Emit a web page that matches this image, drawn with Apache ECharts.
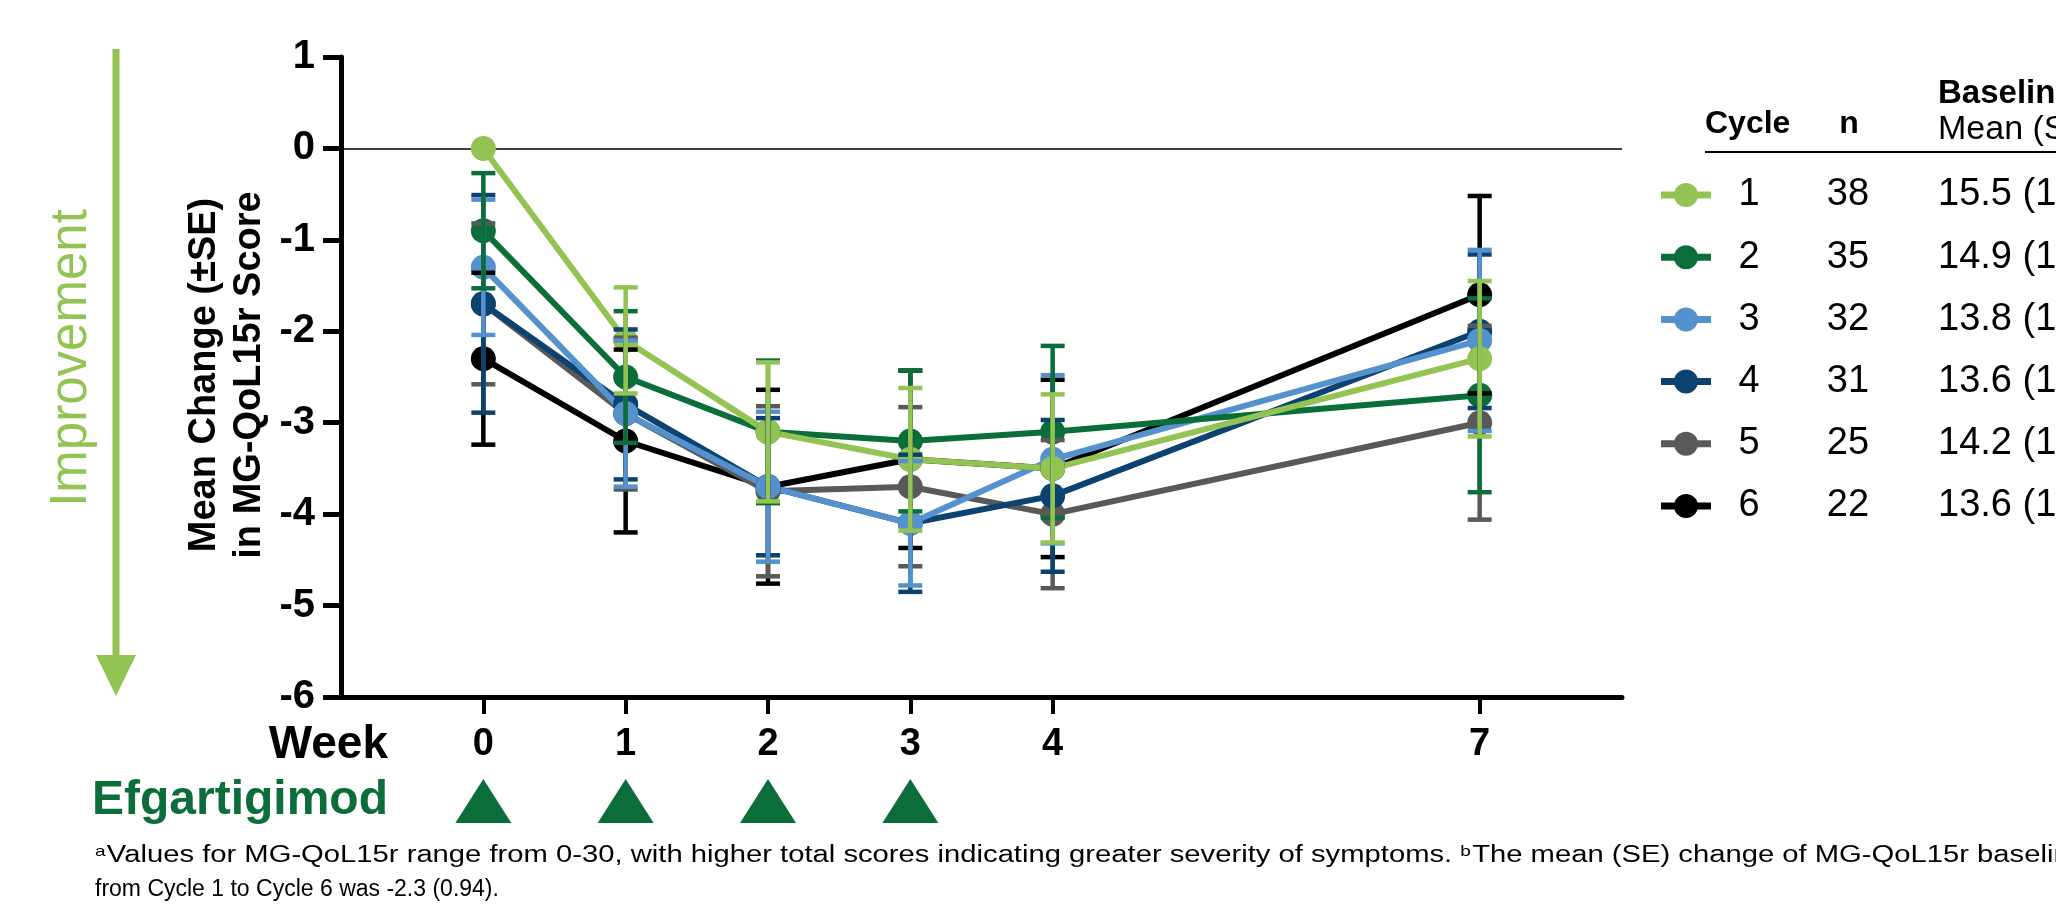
<!DOCTYPE html>
<html>
<head>
<meta charset="utf-8">
<script src="https://cdn.jsdelivr.net/npm/echarts@6.0.0/dist/echarts.min.js"></script>
<style>
  html, body { margin: 0; padding: 0; background: #fff; }
  #chart { width: 2056px; height: 905px; }
</style>
</head>
<body>
<div id="chart"></div>
<script>
// data
var weeks = [0, 1, 2, 3, 4, 7];
var doseWeeks = [0, 1, 2, 3];
var weekLabels = ['0', '1', '2', '3', '4', '7'];
var yTicks = [1, 0, -1, -2, -3, -4, -5, -6];

var cycles = ['1', '2', '3', '4', '5', '6'];
var nPatients = ['38', '35', '32', '31', '25', '22'];
var baselineMean = ['15.5 (1', '14.9 (1', '13.8 (1', '13.6 (1', '14.2 (1', '13.6 (1'];

var mean1 = [0, -2.1, -3.1, -3.4, -3.5, -2.3];
var se1 = [0, 0.58, 0.76, 0.78, 0.81, 0.85];
var mean2 = [-0.9, -2.5, -3.1, -3.2, -3.1, -2.7];
var se2 = [0.63, 0.72, 0.78, 0.77, 0.94, 1.06];
var mean3 = [-1.3, -2.9, -3.7, -4.1, -3.4, -2.1];
var se3 = [0.74, 0.8, 0.82, 0.68, 0.92, 0.99];
var mean4 = [-1.7, -2.8, -3.7, -4.1, -3.8, -2.0];
var se4 = [1.19, 0.82, 0.75, 0.75, 0.83, 0.84];
var mean5 = [-1.7, -2.9, -3.75, -3.7, -4.0, -3.0];
var se5 = [0.88, 0.83, 0.93, 0.87, 0.81, 1.06];
var mean6 = [-2.3, -3.2, -3.7, -3.4, -3.5, -1.6];
var se6 = [0.94, 1.0, 1.06, 0.97, 0.97, 1.08];

var means = [mean1, mean2, mean3, mean4, mean5, mean6];
var ses = [se1, se2, se3, se4, se5, se6];
var colors = ['#92C353', '#0B6E3A', '#5591CD', '#0C426F', '#595959', '#000000'];

var FONT = '"Liberation Sans", Arial, sans-serif';
var lightGreen = '#92C353';
var darkGreen = '#0B6E3A';

var chart = echarts.init(document.getElementById('chart'));

function errorSeries(i) {
  var data = [];
  weeks.forEach(function (w, j) {
    if (ses[i][j] > 0) data.push([w, means[i][j] - ses[i][j], means[i][j] + ses[i][j]]);
  });
  return {
    type: 'custom',
    name: 'err' + cycles[i],
    z: 10,
    silent: true,
    encode: { x: 0, y: [1, 2] },
    data: data,
    renderItem: function (params, api) {
      var x = api.value(0);
      var top = api.coord([x, api.value(2)]);
      var bot = api.coord([x, api.value(1)]);
      var st = { stroke: colors[i], lineWidth: 4.5 };
      return {
        type: 'group',
        children: [
          { type: 'line', shape: { x1: top[0], y1: top[1], x2: bot[0], y2: bot[1] }, style: st },
          { type: 'line', shape: { x1: top[0] - 12, y1: top[1], x2: top[0] + 12, y2: top[1] }, style: st },
          { type: 'line', shape: { x1: bot[0] - 12, y1: bot[1], x2: bot[0] + 12, y2: bot[1] }, style: st }
        ]
      };
    }
  };
}

function lineSeries(i) {
  var s = {
    type: 'line',
    name: 'Cycle ' + cycles[i],
    z: 5,
    data: weeks.map(function (w, j) { return [w, means[i][j]]; }),
    symbol: 'circle',
    symbolSize: 25,
    lineStyle: { color: colors[i], width: 6 },
    itemStyle: { color: colors[i], opacity: 1 }
  };
  if (i === 5) {
    s.markLine = {
      silent: true,
      symbol: 'none',
      label: { show: false },
      lineStyle: { color: '#000', width: 1.5, type: 'solid' },
      data: [{ yAxis: 0 }]
    };
  }
  return s;
}

var series = [];
for (var i = 5; i >= 0; i--) series.push(lineSeries(i));
for (var k = 5; k >= 0; k--) series.push(errorSeries(k));

series.push({
  type: 'scatter',
  xAxisIndex: 1,
  yAxisIndex: 1,
  symbol: 'triangle',
  symbolSize: [56, 44],
  itemStyle: { color: darkGreen, opacity: 1 },
  data: doseWeeks.map(function (w) { return [w, 0.5]; })
});

// table / annotations
var graphics = [
  { type: 'line', shape: { x1: 116, y1: 49, x2: 116, y2: 660 }, style: { stroke: lightGreen, lineWidth: 7 } },
  { type: 'polygon', shape: { points: [[96, 655], [136, 655], [116, 696]] }, style: { fill: lightGreen } },
  { type: 'text', x: 72, y: 358, rotation: Math.PI / 2,
    style: { text: 'Improvement', fontSize: 51, fontFamily: FONT, fill: lightGreen,
      align: 'center', verticalAlign: 'middle', textAlign: 'center', textVerticalAlign: 'middle' } },
  { type: 'text', x: 227, y: 375, rotation: Math.PI / 2,
    style: { text: 'Mean Change (\u00B1SE)\nin MG-QoL15r Score', fontSize: 38, fontWeight: 'bold', lineHeight: 45,
      fontFamily: FONT, fill: '#000', align: 'center', verticalAlign: 'middle', textAlign: 'center', textVerticalAlign: 'middle' } },
  { type: 'text', x: 388, y: 745,
    style: { text: 'Week', fontSize: 46, fontWeight: 'bold', fontFamily: FONT, fill: '#000',
      align: 'right', verticalAlign: 'middle', textAlign: 'right', textVerticalAlign: 'middle' } },
  { type: 'text', x: 388, y: 801,
    style: { text: 'Efgartigimod', fontSize: 48, fontWeight: 'bold', fontFamily: FONT, fill: darkGreen,
      align: 'right', verticalAlign: 'middle', textAlign: 'right', textVerticalAlign: 'middle' } },
  { type: 'text', x: 95, y: 856, scaleX: 1.27,
    style: { text: '{s|a}Values for MG-QoL15r range from 0-30, with higher total scores indicating greater severity of symptoms. {s|b}The mean (SE) change of MG-QoL15r baseline',
      fontSize: 23, fontFamily: FONT, fill: '#000', verticalAlign: 'middle', textVerticalAlign: 'middle',
      rich: { s: { fontSize: 15, fontFamily: FONT, verticalAlign: 'top', padding: [0, 1, 8, 0] } } } },
  { type: 'text', x: 95, y: 890,
    style: { text: 'from Cycle 1 to Cycle 6 was -2.3 (0.94).', fontSize: 23, fontFamily: FONT, fill: '#000',
      verticalAlign: 'middle', textVerticalAlign: 'middle' } },
  { type: 'text', x: 1705, y: 124,
    style: { text: 'Cycle', fontSize: 32, fontWeight: 'bold', fontFamily: FONT, fill: '#000',
      verticalAlign: 'middle', textVerticalAlign: 'middle' } },
  { type: 'text', x: 1849, y: 124,
    style: { text: 'n', fontSize: 32, fontWeight: 'bold', fontFamily: FONT, fill: '#000',
      align: 'center', verticalAlign: 'middle', textAlign: 'center', textVerticalAlign: 'middle' } },
  { type: 'text', x: 1938, y: 94,
    style: { text: 'Baseline', fontSize: 33, fontWeight: 'bold', fontFamily: FONT, fill: '#000',
      verticalAlign: 'middle', textVerticalAlign: 'middle' } },
  { type: 'text', x: 1938, y: 130,
    style: { text: 'Mean (SE)', fontSize: 34, fontFamily: FONT, fill: '#000',
      verticalAlign: 'middle', textVerticalAlign: 'middle' } },
  { type: 'line', shape: { x1: 1705, y1: 152, x2: 2056, y2: 152 }, style: { stroke: '#000', lineWidth: 2 } }
];

cycles.forEach(function (c, i) {
  var y = 195 + i * 62.2;
  graphics.push(
    { type: 'line', shape: { x1: 1661, y1: y, x2: 1711, y2: y }, style: { stroke: colors[i], lineWidth: 7 } },
    { type: 'circle', shape: { cx: 1686, cy: y, r: 12 }, style: { fill: colors[i] } },
    { type: 'text', x: 1749, y: y,
      style: { text: c, fontSize: 38, fontFamily: FONT, fill: '#000',
        align: 'center', verticalAlign: 'middle', textAlign: 'center', textVerticalAlign: 'middle' } },
    { type: 'text', x: 1848, y: y,
      style: { text: nPatients[i], fontSize: 38, fontFamily: FONT, fill: '#000',
        align: 'center', verticalAlign: 'middle', textAlign: 'center', textVerticalAlign: 'middle' } },
    { type: 'text', x: 1938, y: y,
      style: { text: baselineMean[i], fontSize: 38, fontFamily: FONT, fill: '#000',
        verticalAlign: 'middle', textVerticalAlign: 'middle' } }
  );
});

var option = {
  animation: false,
  backgroundColor: '#fff',
  textStyle: { fontFamily: FONT },
  grid: [
    { left: 341, right: 434, top: 57, bottom: 208 },
    { left: 341, right: 434, top: 779, height: 44 }
  ],
  xAxis: [{
    type: 'value',
    min: -1,
    max: 8,
    interval: 1,
    splitLine: { show: false },
    axisLine: { show: true, onZero: false, lineStyle: { color: '#000', width: 5 } },
    axisTick: { show: true, length: 17, customValues: weeks, lineStyle: { color: '#000', width: 4 } },
    axisLabel: {
      show: true, customValues: weeks, margin: 29,
      fontSize: 38, fontWeight: 'bold', color: '#000', fontFamily: FONT,
      formatter: function (v) { return weekLabels[weeks.indexOf(v)]; }
    }
  }, {
    type: 'value', gridIndex: 1, min: -1, max: 8, show: false
  }],
  yAxis: [{
    type: 'value',
    min: -6,
    max: 1,
    interval: 1,
    splitLine: { show: false },
    axisLine: { show: true, onZero: false, lineStyle: { color: '#000', width: 5 } },
    axisTick: { show: true, length: 18, lineStyle: { color: '#000', width: 5 } },
    axisLabel: {
      margin: 26, fontSize: 40, fontWeight: 'bold', color: '#000', fontFamily: FONT,
      formatter: function (v) { return yTicks.indexOf(v) >= 0 ? String(v) : ''; }
    }
  }, {
    type: 'value', gridIndex: 1, min: 0, max: 1, show: false
  }],
  graphic: graphics,
  series: series
};

chart.setOption(option);
</script>
</body>
</html>
